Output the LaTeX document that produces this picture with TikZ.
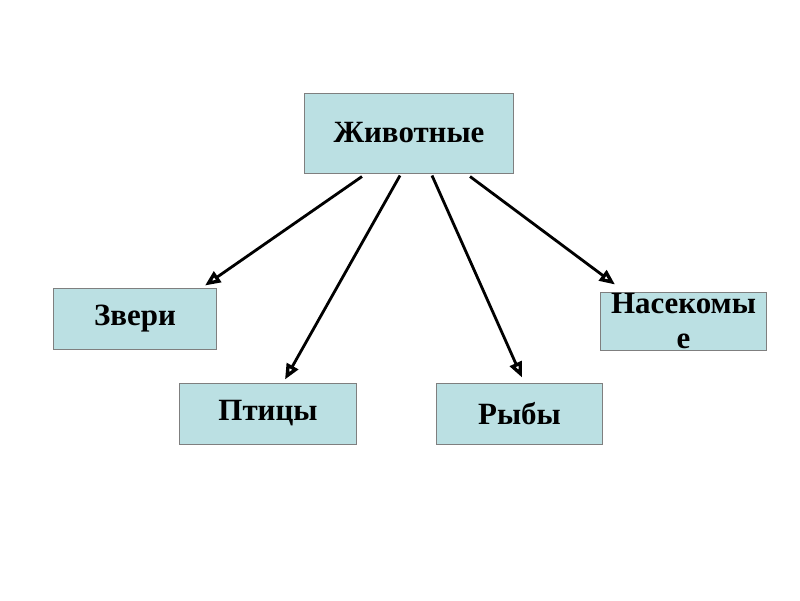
\documentclass[tikz,border=0pt]{standalone}
\usepackage{fontspec}
\setmainfont{Liberation Serif}
\usetikzlibrary{arrows.meta}
\definecolor{boxfill}{HTML}{BBE0E3}
\definecolor{boxline}{HTML}{7F7F7F}

\begin{document}
\begin{tikzpicture}[x=0.025cm, y=-0.025cm, thick,
    box/.style={draw=boxline, fill=boxfill, line width=0.7pt, inner sep=2pt,
        align=center, font=\fontsize{22}{25}\selectfont\bfseries},
    link/.style={line width=2pt, -{Triangle[open, length=11pt, width=9pt, line width=2.4pt]}}]
        \useasboundingbox (0,0) rectangle (800,600);

        \node[box, minimum width=5.2cm, minimum height=2cm] (animals) at (409,133) {Животные};
        \node[box, minimum width=4.05cm, minimum height=1.525cm] (beasts) at (135,318.5) {Звери};
        \node[box, minimum width=4.4cm, minimum height=1.525cm] (birds) at (268,413.5) {Птицы};
        \node[box, minimum width=4.125cm, minimum height=1.525cm] (fish) at (519.5,413.5) {Рыбы};
        \node[box, inner ysep=0pt, minimum width=4.125cm, minimum height=1.45cm] (insects) at (683.5,321) {Насекомы\\е};

        \draw[link] ([xshift=-1.175cm, yshift=-0.075cm]animals.south) -- ([xshift=1.75cm, yshift=0.05cm]beasts.north);
        \draw[link] ([xshift=-0.225cm, yshift=-0.05cm]animals.south) -- ([xshift=0.425cm, yshift=0.075cm]birds.north);
        \draw[link] ([xshift=0.575cm, yshift=-0.05cm]animals.south) -- ([xshift=0.0625cm, yshift=0.125cm]fish.north);
        \draw[link] ([xshift=1.525cm, yshift=-0.075cm]animals.south) -- ([xshift=-1.7125cm, yshift=0.175cm]insects.north);
    \end{tikzpicture}
\end{document}
